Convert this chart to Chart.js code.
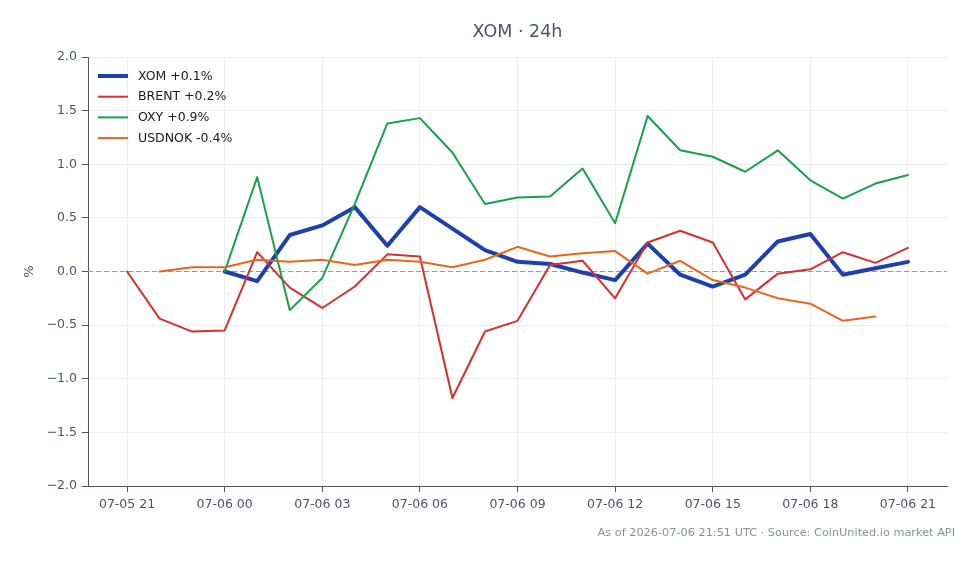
<!DOCTYPE html>
<html lang="en">
<head>
<meta charset="UTF-8">
<title>XOM 24h</title>
<style>
  html, body { margin: 0; padding: 0; background: #fff; }
  #wrap { width: 979px; height: 564px; }
</style>
</head>
<body>
<div id="wrap"><canvas id="chart" width="979" height="564"></canvas></div>
<script src="https://cdn.jsdelivr.net/npm/chart.js"></script>
<script>
// hourly buckets, index 0 = 07-05 21
const hours = ['07-05 21', '07-05 22', '07-05 23', '07-06 00', '07-06 01', '07-06 02', '07-06 03',
    '07-06 04', '07-06 05', '07-06 06', '07-06 07', '07-06 08', '07-06 09', '07-06 10', '07-06 11',
    '07-06 12', '07-06 13', '07-06 14', '07-06 15', '07-06 16', '07-06 17', '07-06 18', '07-06 19',
    '07-06 20', '07-06 21'];
const xTickIdx = [0, 3, 6, 9, 12, 15, 18, 21, 24];

const xom = [null, null, null, 0.00, -0.09, 0.34, 0.43, 0.60, 0.24, 0.60, 0.40, 0.20, 0.09, 0.07,
    -0.01, -0.08, 0.26, -0.03, -0.14, -0.03, 0.28, 0.35, -0.03, 0.03, 0.09];
const brent = [0.00, -0.44, -0.56, -0.55, 0.18, -0.15, -0.34, -0.14, 0.16, 0.14, -1.18, -0.56, -0.46,
    0.06, 0.10, -0.25, 0.27, 0.38, 0.27, -0.26, -0.02, 0.02, 0.18, 0.08, 0.22];
const oxy = [null, null, null, 0.00, 0.88, -0.36, -0.06, 0.63, 1.38, 1.43, 1.11, 0.63, 0.69, 0.70,
    0.96, 0.45, 1.45, 1.13, 1.07, 0.93, 1.13, 0.85, 0.68, 0.82, 0.90];
const usdnok = [null, 0.00, 0.04, 0.04, 0.11, 0.09, 0.11, 0.06, 0.11, 0.09, 0.04, 0.11, 0.23, 0.14,
    0.17, 0.19, -0.02, 0.10, -0.08, -0.15, -0.25, -0.30, -0.46, -0.42, null];

const legendLabels = ['XOM +0.1%', 'BRENT +0.2%', 'OXY +0.9%', 'USDNOK -0.4%'];
const titleText = 'XOM \u00b7 24h';
const footerText = 'As of 2026-07-06 21:51 UTC \u00b7 Source: CoinUnited.io market API';

const FONT = '"DejaVu Sans", "Liberation Sans", sans-serif';
const SLATE = '#4a5568';

function pts(arr) {
    return arr.map((v, i) => ({ x: i, y: v }));
}

// dashed line at 0
const zeroLine = {
    id: 'zeroLine',
    beforeDatasetsDraw(chart) {
        const { ctx, chartArea } = chart;
        const y = chart.scales.y.getPixelForValue(0);
        ctx.save();
        ctx.strokeStyle = '#8e9bb3';
        ctx.lineWidth = 1;
        ctx.setLineDash([5, 3]);
        ctx.beginPath();
        ctx.moveTo(chartArea.left, y);
        ctx.lineTo(chartArea.right, y);
        ctx.stroke();
        ctx.restore();
    }
};

// legend drawn inside the plot, top-left
const insideLegend = {
    id: 'insideLegend',
    afterDatasetsDraw(chart) {
        const { ctx, chartArea } = chart;
        ctx.save();
        ctx.font = '12.5px ' + FONT;
        ctx.textBaseline = 'middle';
        ctx.textAlign = 'left';
        chart.data.datasets.forEach((ds, i) => {
            const y = chartArea.top + 19 + i * 20.7;
            ctx.strokeStyle = ds.borderColor;
            ctx.lineWidth = ds.borderWidth;
            ctx.beginPath();
            ctx.moveTo(chartArea.left + 10, y);
            ctx.lineTo(chartArea.left + 40, y);
            ctx.stroke();
            ctx.fillStyle = '#1a1a1a';
            ctx.fillText(ds.label, chartArea.left + 50, y + 0.5);
        });
        ctx.restore();
    }
};

// title centred over the plot, footer bottom right
const texts = {
    id: 'texts',
    afterDraw(chart) {
        const { ctx, chartArea } = chart;
        ctx.save();
        ctx.textBaseline = 'middle';
        ctx.font = '17.5px ' + FONT;
        ctx.fillStyle = SLATE;
        ctx.textAlign = 'center';
        ctx.fillText(titleText, (chartArea.left + chartArea.right) / 2, 32);
        ctx.font = '11.3px ' + FONT;
        ctx.fillStyle = '#8a9099';
        ctx.textAlign = 'right';
        ctx.fillText(footerText, 955, 533);
        ctx.restore();
    }
};

const ctx = document.getElementById('chart').getContext('2d');
new Chart(ctx, {
    type: 'line',
    data: {
        datasets: [
            { label: legendLabels[0], data: pts(xom), borderColor: '#1e40af', borderWidth: 4, order: 4 },
            { label: legendLabels[1], data: pts(brent), borderColor: '#d62f2f', borderWidth: 2, order: 3 },
            { label: legendLabels[2], data: pts(oxy), borderColor: '#17a04a', borderWidth: 2, order: 2 },
            { label: legendLabels[3], data: pts(usdnok), borderColor: '#e8661c', borderWidth: 2, order: 1 }
        ]
    },
    options: {
        responsive: false,
        animation: false,
        devicePixelRatio: 1,
        spanGaps: false,
        elements: {
            point: { radius: 0, hoverRadius: 0 },
            line: { tension: 0, fill: false, borderJoinStyle: 'round', borderCapStyle: 'round' }
        },
        layout: { padding: { left: 0, right: 32, top: 57, bottom: 0 } },
        plugins: {
            legend: { display: false },
            tooltip: { enabled: false },
            title: { display: false }
        },
        scales: {
            x: {
                type: 'linear',
                min: -1.2,
                max: 25.2,
                afterBuildTicks: (s) => { s.ticks = xTickIdx.map(v => ({ value: v })); },
                afterFit: (s) => { s.height = 78; },
                ticks: {
                    callback: (v) => hours[v],
                    color: SLATE,
                    font: { family: FONT, size: 12.5 },
                    padding: 5,
                    maxRotation: 0,
                    autoSkip: false
                },
                grid: { color: '#e9ecf1', tickColor: SLATE, tickLength: 6 },
                border: { color: SLATE, width: 1 }
            },
            y: {
                min: -2,
                max: 2,
                afterFit: (s) => { s.width = 88; },
                ticks: {
                    stepSize: 0.5,
                    callback: (v) => (v < 0 ? '\u2212' : '') + Math.abs(v).toFixed(1),
                    color: SLATE,
                    font: { family: FONT, size: 12.5 },
                    padding: 5
                },
                title: {
                    display: true,
                    text: '%',
                    color: SLATE,
                    font: { family: FONT, size: 13 },
                    padding: { top: 22, bottom: 0 }
                },
                grid: { color: '#e9ecf1', tickColor: SLATE, tickLength: 6 },
                border: { color: SLATE, width: 1 }
            }
        }
    },
    plugins: [zeroLine, insideLegend, texts]
});
</script>
</body>
</html>
